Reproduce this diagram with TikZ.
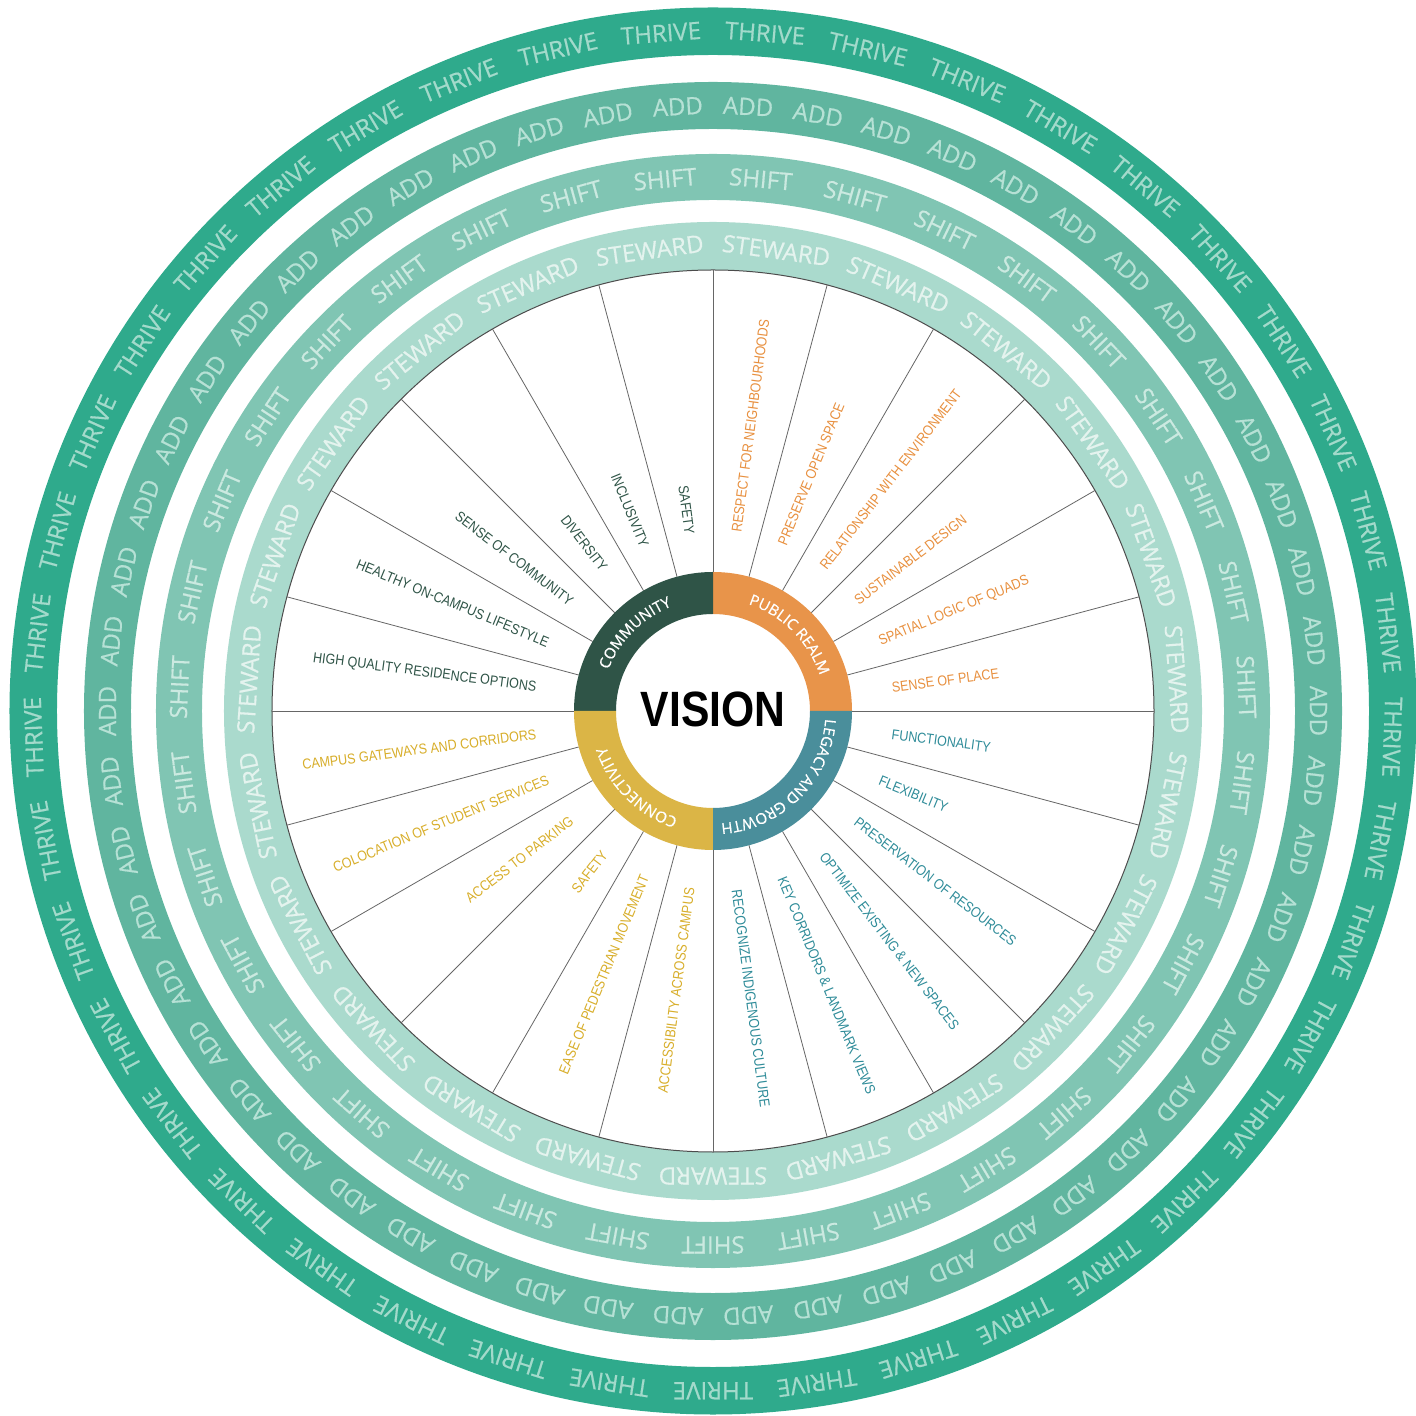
\documentclass[tikz,border=0pt]{standalone}
\usepackage{fontspec}
\usetikzlibrary{decorations.text}
\newfontfamily\ringfont[FakeBold=0.6]{Open Sans}
\newfontfamily\labfont[FakeStretch=0.87]{Liberation Sans}
\newfontfamily\visfont[FakeStretch=0.86]{Liberation Sans}
\newcommand\qfont{\ringfont\fontsize{7.6}{8}\selectfont}
\definecolor{thriveC}{HTML}{2FAA8C}
\definecolor{addC}{HTML}{60B59F}
\definecolor{shiftC}{HTML}{80C5B3}
\definecolor{stewC}{HTML}{AADACD}
\definecolor{thriveT}{HTML}{A3DACB}
\definecolor{addT}{HTML}{B6E1D5}
\definecolor{shiftT}{HTML}{CBE9E0}
\definecolor{stewT}{HTML}{E4F3EE}
\definecolor{commC}{HTML}{2F5447}
\definecolor{pubC}{HTML}{E8944A}
\definecolor{legC}{HTML}{4A8E9B}
\definecolor{conC}{HTML}{DBB546}
\definecolor{pubT}{HTML}{E8903F}
\definecolor{legT}{HTML}{2F8C99}
\definecolor{conT}{HTML}{D8AE2A}
\begin{document}
\begin{tikzpicture}[x=0.5pt,y=0.5pt,
  ringword/.style={font=\ringfont\fontsize{12}{13}\selectfont, inner sep=0pt, anchor=center},
  lab/.style={font=\labfont\fontsize{7.2}{8}\selectfont, inner sep=0pt},
  spoke/.style={draw=black!60, line width=0.4pt},
  qlabel/.style={decorate, decoration={text along path, text align=center, text color=white}},
]
\useasboundingbox (-713,-705) rectangle (703,711);
% outer bands
\draw[thriveC, line width=23.75pt] (0,0) circle[radius=679.75];
\draw[addC, line width=23.5pt] (0,0) circle[radius=605.5];
\draw[shiftC, line width=23pt] (0,0) circle[radius=534];
\draw[stewC, line width=24pt] (0,0) circle[radius=465];
% band words
\foreach \i in {0,...,40}{
  \pgfmathsetmacro\a{90-(\i+0.5)*(360/41)}
  \node[ringword, text=thriveT, rotate=\a-90] (thr\i) at (\a:679.75) {THRIVE};
}
\foreach \i in {0,...,53}{
  \pgfmathsetmacro\a{90-(\i+0.5)*(360/54)}
  \node[ringword, text=addT, rotate=\a-90] (add\i) at (\a:605.5) {ADD};
}
\foreach \i in {0,...,34}{
  \pgfmathsetmacro\a{90-(\i+0.5)*(360/35)}
  \node[ringword, text=shiftT, rotate=\a-90] (shf\i) at (\a:534) {SHIFT};
}
\foreach \i in {0,...,22}{
  \pgfmathsetmacro\a{90-(\i+0.5)*(360/23)}
  \node[ringword, text=stewT, rotate=\a-90] (stw\i) at (\a:465) {STEWARD};
}
% inner disk
\draw[fill=white, draw=black!70, line width=0.5pt] (0,0) circle[radius=441];
\foreach \k in {0,...,23}{
  \draw[spoke] (\k*15:139) -- (\k*15:441);
}
% quadrant ring
\fill[pubC] (0:139) arc[start angle=0,end angle=90,radius=139] -- (90:97) arc[start angle=90,end angle=0,radius=97] -- cycle;
\fill[commC] (90:139) arc[start angle=90,end angle=180,radius=139] -- (180:97) arc[start angle=180,end angle=90,radius=97] -- cycle;
\fill[conC] (180:139) arc[start angle=180,end angle=270,radius=139] -- (270:97) arc[start angle=270,end angle=180,radius=97] -- cycle;
\fill[legC] (270:139) arc[start angle=270,end angle=360,radius=139] -- (0:97) arc[start angle=360,end angle=270,radius=97] -- cycle;
\path[qlabel, decoration={text={|\qfont|COMMUNITY}}] (180:112.5) arc[start angle=180,end angle=90,radius=112.5];
\path[qlabel, decoration={text={|\qfont|PUBLIC REALM}}] (90:112.5) arc[start angle=90,end angle=0,radius=112.5];
\path[qlabel, decoration={text={|\qfont|LEGACY AND GROWTH}}] (0:112.5) arc[start angle=0,end angle=-90,radius=112.5];
\path[qlabel, decoration={text={|\qfont|CONNECTIVITY}}] (270:112.5) arc[start angle=270,end angle=180,radius=112.5];
% centre
\node[font=\visfont\bfseries\fontsize{24.8}{26}\selectfont, inner sep=0pt] (vision) at (0,2) {VISION};
% community labels
\foreach \t/\a [count=\n] in {SAFETY/97.5, INCLUSIVITY/112.5, DIVERSITY/127.5, SENSE OF COMMUNITY/142.5, HEALTHY ON-CAMPUS LIFESTYLE/157.5, HIGH QUALITY RESIDENCE OPTIONS/172.5}{
  \node[lab, text=commC, anchor=east, rotate=\a-180] (com\n) at (\a:178) {\t};
}
% public realm labels
\foreach \t/\a [count=\n] in {RESPECT FOR NEIGHBOURHOODS/82.5, PRESERVE OPEN SPACE/67.5, RELATIONSHIP WITH ENVIRONMENT/52.5, SUSTAINABLE DESIGN/37.5, SPATIAL LOGIC OF QUADS/22.5, SENSE OF PLACE/7.5}{
  \node[lab, text=pubT, anchor=west, rotate=\a] (pub\n) at (\a:180) {\t};
}
% legacy labels
\foreach \t/\a [count=\n] in {FUNCTIONALITY/-7.5, FLEXIBILITY/-22.5, PRESERVATION OF RESOURCES/-37.5, OPTIMIZE EXISTING \& NEW SPACES/-52.5, KEY CORRIDORS \& LANDMARK VIEWS/-67.5, RECOGNIZE INDIGENOUS CULTURE/-82.5}{
  \node[lab, text=legT, anchor=west, rotate=\a] (leg\n) at (\a:180) {\t};
}
% connectivity labels
\foreach \t/\a [count=\n] in {CAMPUS GATEWAYS AND CORRIDORS/187.5, COLOCATION OF STUDENT SERVICES/202.5, ACCESS TO PARKING/217.5, SAFETY/232.5, EASE OF PEDESTRIAN MOVEMENT/247.5, ACCESSIBILITY ACROSS CAMPUS/262.5}{
  \node[lab, text=conT, anchor=east, rotate=\a-180] (con\n) at (\a:178) {\t};
}
\end{tikzpicture}
\end{document}
